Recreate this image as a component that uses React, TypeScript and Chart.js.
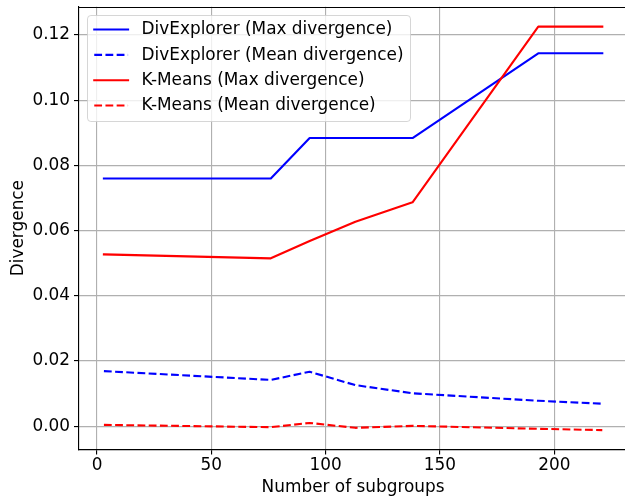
import { useEffect, useRef } from 'react';
import { Chart, registerables } from 'chart.js';

Chart.register(...registerables);

// Number of subgroups (x)
const subgroups = [3, 76, 93, 113, 138, 193, 221];
// Series values
const divExplorerMax = [0.0760, 0.0760, 0.0884, 0.0884, 0.0884, 0.1144, 0.1144];
const divExplorerMean = [0.0169, 0.0142, 0.0167, 0.0126, 0.0101, 0.0078, 0.0069];
const kMeansMax = [0.0527, 0.0515, 0.0568, 0.0627, 0.0687, 0.1226, 0.1226];
const kMeansMean = [0.0004, -0.0003, 0.0010, -0.0005, 0.0001, -0.0008, -0.0012];
// Legend labels
const seriesLabels = [
  'DivExplorer (Max divergence)',
  'DivExplorer (Mean divergence)',
  'K-Means (Max divergence)',
  'K-Means (Mean divergence)',
];
// Tick values
const xTicks = [0, 50, 100, 150, 200];
const yTicks = [0, 0.02, 0.04, 0.06, 0.08, 0.1, 0.12];
const xTitle = 'Number of subgroups';
const yTitle = 'Divergence';

const FONT = "'DejaVu Sans', sans-serif";
const FS = 16.9;
const AXW = 1.13;
const CW = 660;
const AREA_RIGHT = 640; // beyond the visible 625px; axes box right edge would be ~627
const X_MIN = -7.9;
const X_MAX = 237.5;

export default function App() {
  const ref = useRef<HTMLCanvasElement>(null);

  useEffect(() => {
    document.body.style.margin = '0';
    const canvas = ref.current!;
    const pts = (ys: number[]) => subgroups.map((x, i) => ({ x, y: ys[i] }));
    const mk = (i: number, ys: number[], color: string, dashed: boolean) => ({
      label: seriesLabels[i],
      data: pts(ys),
      borderColor: color,
      backgroundColor: color,
      borderWidth: 2.11,
      borderDash: dashed ? [7.8, 3.4] : [],
      borderCapStyle: dashed ? 'butt' : 'square',
      borderJoinStyle: 'round',
      pointRadius: 0,
      pointHoverRadius: 0,
      tension: 0,
      fill: false,
      order: 10 - i,
    });

    const datasets = [
      mk(0, divExplorerMax, '#0000ff', false),
      mk(1, divExplorerMean, '#0000ff', true),
      mk(2, kMeansMax, '#ff0000', false),
      mk(3, kMeansMean, '#ff0000', true),
    ];

    const framePlugin = {
      id: 'mplFrame',
      afterDraw(chart: any) {
        const ctx = chart.ctx as CanvasRenderingContext2D;
        const ca = chart.chartArea;
        ctx.save();
        // top spine
        ctx.strokeStyle = '#000';
        ctx.lineWidth = AXW;
        ctx.beginPath();
        const ty = Math.round(ca.top) + 0.5;
        ctx.moveTo(ca.left, ty);
        ctx.lineTo(chart.width, ty);
        ctx.stroke();

        // x axis title, centred on the matplotlib axes box (right edge ~627)
        const xs = chart.scales.x;
        const boxRight = xs.getPixelForValue(231.9);
        ctx.font = `${FS}px ${FONT}`;
        ctx.fillStyle = '#000';
        ctx.textAlign = 'center';
        ctx.textBaseline = 'middle';
        ctx.fillText(xTitle, (ca.left + boxRight) / 2, 499 - 1.5 - (FS * 1.2) / 2);

        // legend
        const em = FS;
        const ds = chart.data.datasets;
        const maxW = Math.max(...ds.map((d: any) => ctx.measureText(d.label).width));
        const x0 = Math.round(ca.left + 0.5 * em) + 0.5;
        const y0 = Math.round(ca.top + 0.5 * em) + 0.5;
        const w = Math.round(0.4 * em + 2 * em + 0.8 * em + maxW + 0.4 * em);
        const h = Math.round(0.8 * em + 4 * em + 3 * 0.5 * em);
        const r = 0.2 * em;
        ctx.beginPath();
        ctx.moveTo(x0 + r, y0);
        ctx.lineTo(x0 + w - r, y0);
        ctx.arcTo(x0 + w, y0, x0 + w, y0 + r, r);
        ctx.lineTo(x0 + w, y0 + h - r);
        ctx.arcTo(x0 + w, y0 + h, x0 + w - r, y0 + h, r);
        ctx.lineTo(x0 + r, y0 + h);
        ctx.arcTo(x0, y0 + h, x0, y0 + h - r, r);
        ctx.lineTo(x0, y0 + r);
        ctx.arcTo(x0, y0, x0 + r, y0, r);
        ctx.closePath();
        ctx.fillStyle = 'rgba(255,255,255,0.8)';
        ctx.fill();
        ctx.strokeStyle = 'rgba(204,204,204,0.8)';
        ctx.lineWidth = 1;
        ctx.stroke();

        ds.forEach((d: any, i: number) => {
          const cy = y0 + 0.4 * em + 0.5 * em + i * 1.5 * em - 1.2;
          const hx = x0 + 0.4 * em;
          ctx.beginPath();
          ctx.setLineDash(d.borderDash || []);
          ctx.lineCap = d.borderDash && d.borderDash.length ? 'butt' : 'square';
          ctx.strokeStyle = d.borderColor;
          ctx.lineWidth = d.borderWidth;
          ctx.moveTo(hx, cy);
          ctx.lineTo(hx + 2 * em, cy);
          ctx.stroke();
          ctx.setLineDash([]);
          ctx.fillStyle = '#000';
          ctx.textBaseline = 'middle';
          ctx.textAlign = 'left';
          ctx.fillText(d.label, hx + 2.8 * em, cy + 0.5);
        });
        ctx.restore();
      },
    };

    const chart = new Chart(canvas, {
      type: 'line',
      data: { datasets: datasets as any },
      plugins: [framePlugin],
      options: {
        responsive: false,
        animation: false,
        devicePixelRatio: 1,
        layout: { padding: { left: 0, top: 6.7, right: CW - AREA_RIGHT, bottom: 0 } },
        plugins: { legend: { display: false }, tooltip: { enabled: false } },
        events: [],
        scales: {
          x: {
            type: 'linear',
            min: X_MIN,
            max: X_MAX,
            afterFit: (s: any) => { s.height = 49.5; s.paddingLeft = 0; s.paddingRight = 0; },
            afterBuildTicks: (s: any) => { s.ticks = xTicks.map((v) => ({ value: v })); },
            ticks: {
              color: '#000',
              font: { family: FONT, size: FS, lineHeight: 1.2 },
              padding: 1,
              maxRotation: 0,
              autoSkip: false,
              callback: (v: any) => String(v),
            },
            grid: { color: '#b0b0b0', lineWidth: AXW, tickLength: 5, tickColor: '#000', tickWidth: AXW },
            border: { display: true, color: '#000', width: AXW },
            title: { display: false },
          },
          y: {
            type: 'linear',
            min: -0.00715,
            max: 0.1287,
            afterFit: (s: any) => { s.width = 79; s.paddingTop = 0; s.paddingBottom = 0; },
            afterBuildTicks: (s: any) => { s.ticks = yTicks.map((v) => ({ value: v })); },
            ticks: {
              color: '#000',
              font: { family: FONT, size: FS, lineHeight: 1.2 },
              padding: 4,
              autoSkip: false,
              callback: (v: any) => Number(v).toFixed(2),
            },
            grid: { color: '#b0b0b0', lineWidth: AXW, tickLength: 5, tickColor: '#000', tickWidth: AXW },
            border: { display: true, color: '#000', width: AXW },
            title: {
              display: true,
              text: yTitle,
              color: '#000',
              font: { family: FONT, size: FS, lineHeight: 1.2 },
              padding: { top: 8.2, bottom: 0 },
            },
          },
        },
      } as any,
    });
    return () => chart.destroy();
  }, []);

  return (
    <div style={{ position: 'fixed', left: 0, top: 0, width: 625, height: 499, overflow: 'hidden' }}>
      <canvas ref={ref} width={CW} height={499} style={{ width: CW, height: 499, display: 'block' }} />
    </div>
  );
}
